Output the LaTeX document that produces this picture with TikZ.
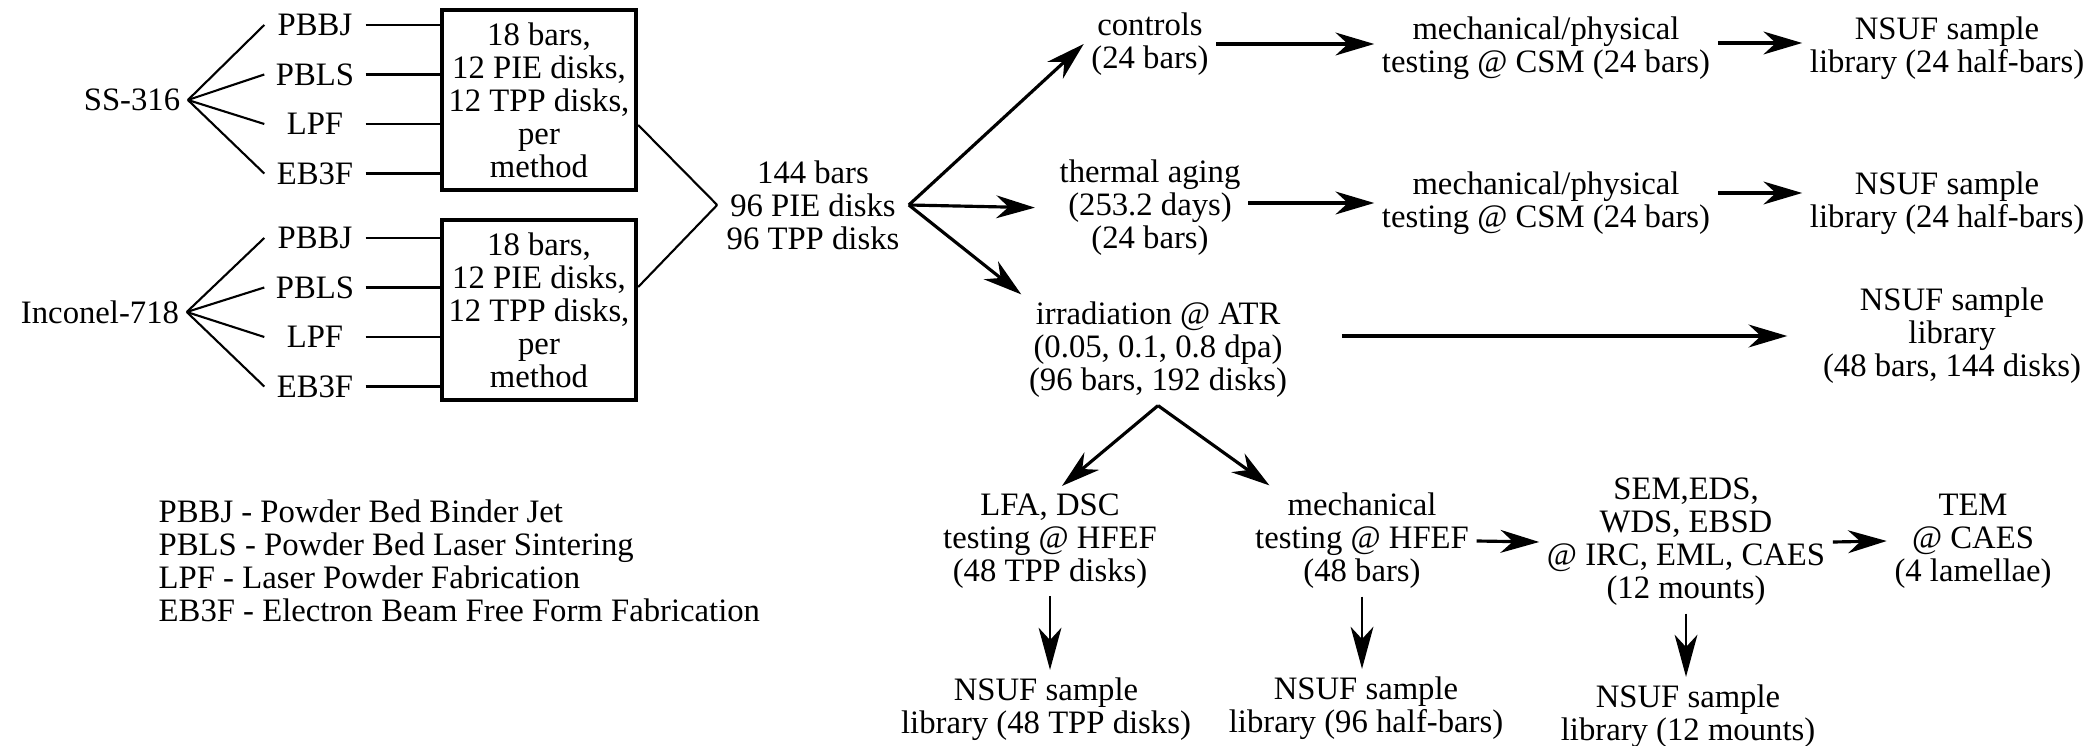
\documentclass[tikz,border=0pt]{standalone}
\usepackage{fontspec}
\setmainfont{Liberation Serif}
\usetikzlibrary{arrows.meta,calc,positioning}
\newcommand{\figfont}{\fontsize{9.3pt}{9.39pt}\selectfont}

\begin{document}
\begin{tikzpicture}[x=0.01cm, y=-0.01cm, >={Stealth[length=11pt, width=6.5pt, inset=3.5pt]}, every node/.style={font=\figfont}]
    \tikzset{
        ln/.style={line width=0.6pt},
        a/.style={->, line width=0.9pt},
        av/.style={-{Stealth[length=12pt, width=6.5pt, inset=3.5pt]}, line width=0.5pt},
        txt/.style={align=center, inner sep=2pt},
        mth/.style={minimum width=1cm, inner sep=0pt},
        bx/.style={draw, line width=1.2pt, align=center, minimum width=1.94cm, minimum height=1.8cm, inner sep=0pt}
    }
    \useasboundingbox (0,0) rectangle (2095,746);

    \begin{scope}
        \node [txt] (ss) at (132,100) {SS-316};
        \node [bx] (boxa) at (539,100) {18 bars,\\12 PIE disks,\\12 TPP disks,\\per\\method};
        \foreach \m [count=\i] in {PBBJ,PBLS,LPF,EB3F} {
            \node [mth] (sa\i) at (315,{25+49.5*(\i-1)}) {\m};
            \draw [ln] (ss.east) -- (sa\i.west);
            \draw [ln] (sa\i.east) -- (sa\i.east -| boxa.west);
        }

        \node [txt] (inc) at (100,312) {Inconel-718};
        \node [bx] (boxb) at (539,310) {18 bars,\\12 PIE disks,\\12 TPP disks,\\per\\method};
        \foreach \m [count=\i] in {PBBJ,PBLS,LPF,EB3F} {
            \node [mth] (sb\i) at (315,{238+49.5*(\i-1)}) {\m};
            \draw [ln] (inc.east) -- (sb\i.west);
            \draw [ln] (sb\i.east) -- (sb\i.east -| boxb.west);
        }

        \node [txt, inner sep=2.5pt] (tot) at (813,205) {144 bars\\96 PIE disks\\96 TPP disks};
            \draw [ln] ([yshift=-0.25cm]boxa.east) -- (tot.west);
            \draw [ln] ([yshift=0.23cm]boxb.east) -- (tot.west);

        \node [txt] (ctl) at (1150,44) {controls\\(24 bars)};
        \node [txt] (th) at (1150,208) {thermal aging\\(253.2 days)\\(24 bars)};
        \node [txt] (irr) at (1158,350) {irradiation @ ATR\\(0.05, 0.1, 0.8 dpa)\\(96 bars, 192 disks)};

            \draw [a] (tot.east) -- (ctl.west);
            \draw [a, shorten >=0.17cm] (tot.east) -- (th.west);
            \draw [a] (tot.east) -- (irr.north west);

        \node [txt] (mc1) at (1546,48) {mechanical/physical\\testing @ CSM (24 bars)};
        \node [txt] (mc2) at (1546,203) {mechanical/physical\\testing @ CSM (24 bars)};
        \node [txt] (lib1) at (1947,48) {NSUF sample\\library (24 half-bars)};
        \node [txt] (lib2) at (1947,203) {NSUF sample\\library (24 half-bars)};
        \node [txt] (lib3) at (1952,336) {NSUF sample\\library\\(48 bars, 144 disks)};

            \draw [a] (ctl.east) -- (ctl.east -| mc1.west);
            \draw [a] ([yshift=0.05cm]mc1.east) -- ([yshift=0.05cm]lib1.west);
            \draw [a] (mc2.west -| th.east) -- (mc2.west);
            \draw [a] ([yshift=0.1cm]mc2.east) -- ([yshift=0.1cm]lib2.west);
            \draw [a, shorten <=0.47cm, shorten >=0.28cm] (irr.east |- lib3.west) -- (lib3.west);

        \node [txt] (lfa) at (1050,541) {LFA, DSC\\testing @ HFEF\\(48 TPP disks)};
        \node [txt] (mt) at (1362,541) {mechanical\\testing @ HFEF\\(48 bars)};
        \node [txt] (sem) at (1686,542) {SEM,EDS,\\WDS, EBSD\\@ IRC, EML, CAES\\(12 mounts)};
        \node [txt] (tem) at (1973,541) {TEM\\@ CAES\\(4 lamellae)};
        \node [txt] (lib4) at (1046,709) {NSUF sample\\library (48 TPP disks)};
        \node [txt] (lib5) at (1366,708) {NSUF sample\\library (96 half-bars)};
        \node [txt] (lib6) at (1688,716) {NSUF sample\\library (12 mounts)};

            \draw [a] (irr.south) -- ($(lfa.north)+(12,0)$);
            \draw [a] (irr.south) -- ($(mt.north west)+(22,0)$);
            \draw [a] (mt.east) -- (sem.west);
            \draw [a] (sem.east) -- (tem.west);
            \draw [av] (lfa.south) -- (lfa.south |- lib4.north);
            \draw [av] (mt.south) -- (mt.south |- lib5.north);
            \draw [av] (sem.south) -- (sem.south |- lib6.north);

        \node [anchor=west, align=left, inner sep=0pt] (key) at (158,561) {PBBJ - Powder Bed Binder Jet\\PBLS - Powder Bed Laser Sintering\\LPF - Laser Powder Fabrication\\EB3F - Electron Beam Free Form Fabrication};
    \end{scope}
\end{tikzpicture}
\end{document}
